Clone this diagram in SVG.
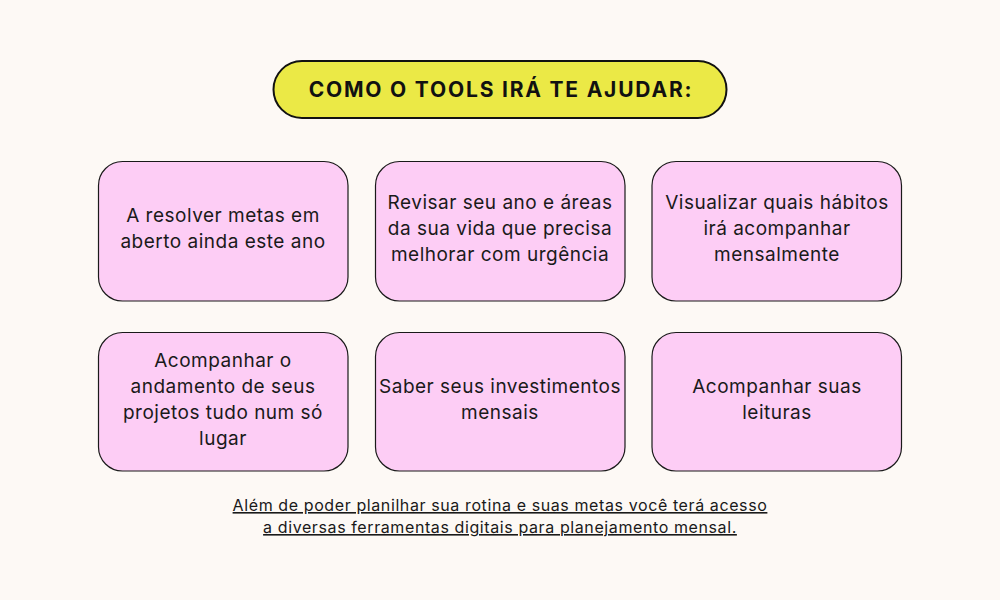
<svg xmlns="http://www.w3.org/2000/svg" width="1000" height="600" viewBox="0 0 1000 600">
<style>
.card{fill:#fdcdf5;stroke:#1a1a1a;stroke-width:1.2}
.t{font-family:"Inter","Liberation Sans",sans-serif;font-size:19px;letter-spacing:0.5px;fill:#1a1a1a;text-anchor:middle}
.title{font-family:"Inter","Liberation Sans",sans-serif;font-size:21px;font-weight:700;letter-spacing:1.8px;fill:#111;text-anchor:middle}
.foot{font-family:"Inter","Liberation Sans",sans-serif;font-size:16px;letter-spacing:0.6px;fill:#1a1a1a;text-anchor:middle;text-decoration:underline}
</style>
<rect width="1000" height="600" fill="#fdf9f5"/>
<g id="title">
<rect x="273.5" y="61" width="453" height="57" rx="28.5" fill="#ebe946" stroke="#111" stroke-width="2"/>
<text class="title" x="501" y="97">COMO O TOOLS IRÁ TE AJUDAR:</text>
</g>
<g id="connectors"></g>
<g id="n1">
<rect class="card" x="98.5" y="161.5" width="249.5" height="139.5" rx="24"/>
<text class="t" x="223" y="222">A resolver metas em</text>
<text class="t" x="223" y="248">aberto ainda este ano</text>
</g>
<g id="n2">
<rect class="card" x="375.5" y="161.5" width="249.5" height="139.5" rx="24"/>
<text class="t" x="500" y="209">Revisar seu ano e áreas</text>
<text class="t" x="500" y="235">da sua vida que precisa</text>
<text class="t" x="500" y="261">melhorar com urgência</text>
</g>
<g id="n3">
<rect class="card" x="652" y="161.5" width="249.5" height="139.5" rx="24"/>
<text class="t" x="777" y="209">Visualizar quais hábitos</text>
<text class="t" x="777" y="235">irá acompanhar</text>
<text class="t" x="777" y="261">mensalmente</text>
</g>
<g id="n4">
<rect class="card" x="98.5" y="332.5" width="249.5" height="138.5" rx="24"/>
<text class="t" x="223" y="367">Acompanhar o</text>
<text class="t" x="223" y="393">andamento de seus</text>
<text class="t" x="223" y="419">projetos tudo num só</text>
<text class="t" x="223" y="445">lugar</text>
</g>
<g id="n5">
<rect class="card" x="375.5" y="332.5" width="249.5" height="138.5" rx="24"/>
<text class="t" x="500" y="393">Saber seus investimentos</text>
<text class="t" x="500" y="419">mensais</text>
</g>
<g id="n6">
<rect class="card" x="652" y="332.5" width="249.5" height="138.5" rx="24"/>
<text class="t" x="777" y="393">Acompanhar suas</text>
<text class="t" x="777" y="419">leituras</text>
</g>
<g id="footer">
<text class="foot" x="500" y="511">Além de poder planilhar sua rotina e suas metas você terá acesso</text>
<text class="foot" x="500" y="533">a diversas ferramentas digitais para planejamento mensal.</text>
</g>
</svg>
